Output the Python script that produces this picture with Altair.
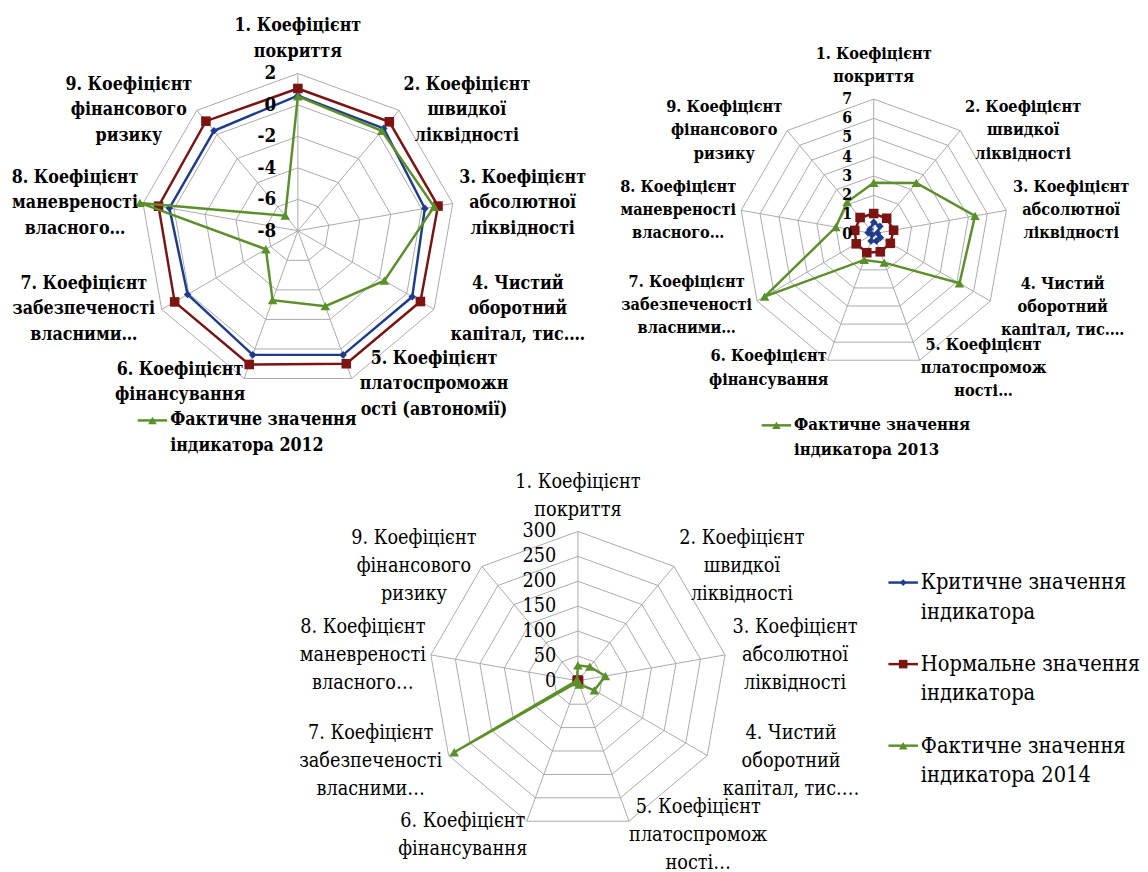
import math
import altair as alt
import pandas as pd

# ------------------------------------------------------------------ data
LABELS_2012 = [
    "1. Коефіцієнт\nпокриття",
    "2. Коефіцієнт\nшвидкої\nліквідності",
    "3. Коефіцієнт\nабсолютної\nліквідності",
    "4. Чистий\nоборотний\nкапітал, тис.…",
    "5. Коефіцієнт\nплатоспроможн\nості (автономії)",
    "6. Коефіцієнт\nфінансування",
    "7. Коефіцієнт\nзабезпеченості\nвласними…",
    "8. Коефіцієнт\nманевреності\nвласного…",
    "9. Коефіцієнт\nфінансового\nризику",
]
LABELS_2013 = [
    "1. Коефіцієнт\nпокриття",
    "2. Коефіцієнт\nшвидкої\nліквідності",
    "3. Коефіцієнт\nабсолютної\nліквідності",
    "4. Чистий\nоборотний\nкапітал, тис.…",
    "5. Коефіцієнт\nплатоспромож\nності…",
    "6. Коефіцієнт\nфінансування",
    "7. Коефіцієнт\nзабезпеченості\nвласними…",
    "8. Коефіцієнт\nманевреності\nвласного…",
    "9. Коефіцієнт\nфінансового\nризику",
]
LABELS_2014 = LABELS_2013

CRITICAL = [0.6, 0.5, 0.2, 0.4, 0.4, 0.4, 0.1, 0.3, 0.3]
NORMAL = [1.05, 1.05, 1.05, 1.0, 1.0, 1.05, 1.05, 1.0, 1.1]
ACTUAL_2012 = [0.55, 0.3, 0.8, -1.65, -2.9, -3.3, -5.65, 2.2, -6.75]
ACTUAL_2013 = [2.65, 3.45, 5.35, 5.15, 1.6, 1.45, 6.55, 2.0, 2.15]
ACTUAL_2014 = [31, 37, 56, 38, 8, 3, 287, 2, 3]

TICKS_2012 = [-8, -6, -4, -2, 0, 2]
TICKS_2013 = [0, 1, 2, 3, 4, 5, 6, 7]
TICKS_2014 = [0, 50, 100, 150, 200, 250, 300]

SERIES = ["Критичне значення індикатора", "Нормальне значення індикатора",
          "Фактичне значення індикатора"]
LEGEND_LINES = ["Критичне значення\nіндикатора", "Нормальне значення\nіндикатора",
                "Фактичне значення\nіндикатора "]
YEARS = ["2012", "2013", "2014"]

# ------------------------------------------------------------------ style
COLORS = ["#1f3c8c", "#7c1414", "#5b8f2a"]
SHAPES = ["diamond", "square", "triangle-up"]
SIZES = [60, 95, 95]
GRID = "#a9a9a9"
FONT = "DejaVu Serif Condensed"
N = 9

CW = {'і': .28, 'ї': .28, '.': .25, ' ': .25, ',': .25, '(': .33, ')': .33, '…': 1.0,
      'ж': .7, 'ш': .77, 'щ': .77, 'ю': .72, 'м': .62, 'ф': .65, 'К': .72, 'Ч': .67,
      'Ф': .72, 'з': .4, 'г': .42, 'е': .44, 'є': .44, 'с': .44, 'а': .44, 'т': .45,
      'ь': .45, 'я': .48, 'к': .48, 'в': .47, 'у': .47}


def text_width(s, size, bold):
    return sum(CW.get(c, 0.5) for c in s) * size * (1.2 if bold else 1.08)


def panel(W, H, cx, cy, R, ticks, actual, labels, fs, lh, tfs, bold, legend, pads, dys):
    vmin, vmax = ticks[0], ticks[-1]
    weight = "bold" if bold else "normal"
    xsc = alt.Scale(domain=[-cx, W - cx], nice=False, zero=False)
    ysc = alt.Scale(domain=[cy - H, cy], nice=False, zero=False)

    def X(f):
        return alt.X(f"{f}:Q", scale=xsc, axis=None)

    def Y(f):
        return alt.Y(f"{f}:Q", scale=ysc, axis=None)

    def polar(ch):
        return (ch.transform_calculate(r=f"(datum.v - ({vmin})) / {vmax - vmin} * {R}")
                  .transform_calculate(a=f"datum.k * 2 * PI / {N}")
                  .transform_calculate(x="datum.r * sin(datum.a)")
                  .transform_calculate(y="datum.r * cos(datum.a)"))

    layers = []
    sp = pd.DataFrame({"k": list(range(N)), "v": [vmax] * N})
    layers.append(polar(alt.Chart(sp)).transform_calculate(x0="0", y0="0").mark_rule(
        color=GRID, strokeWidth=1).encode(x=X("x0"), y=Y("y0"), x2="x:Q", y2="y:Q"))
    rg = pd.DataFrame([{"t": t, "k": k, "v": t} for t in ticks[1:] for k in range(N + 1)])
    layers.append(polar(alt.Chart(rg)).mark_line(color=GRID, strokeWidth=1).encode(
        x=X("x"), y=Y("y"), detail="t:N", order="k:Q"))
    for i, vals in enumerate([CRITICAL, NORMAL, actual]):
        df = pd.DataFrame({"k": list(range(N + 1)), "v": [vals[k % N] for k in range(N + 1)]})
        base = polar(alt.Chart(df))
        layers.append(base.mark_line(color=COLORS[i], strokeWidth=2.5).encode(
            x=X("x"), y=Y("y"), order="k:Q"))
        layers.append(base.transform_filter(f"datum.k < {N}").mark_point(
            filled=True, opacity=1, shape=SHAPES[i], size=SIZES[i], color=COLORS[i]).encode(
            x=X("x"), y=Y("y")))
    tk = pd.DataFrame({"k": [0] * len(ticks), "v": ticks, "txt": [str(t) for t in ticks]})
    layers.append(polar(alt.Chart(tk)).transform_calculate(lx="-22").mark_text(
        align="right", baseline="middle", font=FONT, fontSize=tfs, fontWeight=weight,
        color="black").encode(x=X("lx"), y=Y("y"), text="txt:N"))
    rows = []
    for k, lab in enumerate(labels):
        th = 2 * math.pi * k / N
        vx, vy = R * math.sin(th), R * math.cos(th)
        lines = lab.split("\n")
        hw = max(text_width(l, fs, bold) for l in lines) / 2
        if k == 0:
            lx, ly = 0.0, vy + 22 + (len(lines) - 1) * lh
        else:
            sgn = 1 if math.sin(th) > 0 else -1
            lx, ly = vx + sgn * (pads[k] + hw), vy + dys[k] + (len(lines) - 1) * lh / 2
        rows.append({"lx": lx, "ly": ly, "txt": lab})
    layers.append(alt.Chart(pd.DataFrame(rows)).mark_text(
        align="center", baseline="middle", lineBreak="\n", lineHeight=lh, font=FONT,
        fontSize=fs, fontWeight=weight, color="black").encode(
        x=X("lx"), y=Y("ly"), text="txt:N"))
    idx, x0, y0s, lfs, llh, year = legend
    lg = []
    for j, s in enumerate(idx):
        txt = LEGEND_LINES[s] + (year if s == 2 else "")
        lg.append({"s": s, "x0": x0, "x1": x0 + 30, "xm": x0 + 15, "y": y0s[j],
                   "tx": x0 + 33, "ty": y0s[j], "txt": txt})
    lgd = pd.DataFrame(lg)
    for j, s in enumerate(idx):
        one = alt.Chart(lgd[lgd.s == s])
        layers.append(one.mark_rule(color=COLORS[s], strokeWidth=2.5).encode(
            x=X("x0"), x2="x1:Q", y=Y("y")))
        layers.append(one.mark_point(filled=True, opacity=1, shape=SHAPES[s],
                                     size=SIZES[s] * 0.8, color=COLORS[s]).encode(
            x=X("xm"), y=Y("y")))
    layers.append(alt.Chart(lgd).mark_text(
        align="left", baseline="middle", lineBreak="\n", lineHeight=llh, font=FONT,
        fontSize=lfs, fontWeight=weight, color="black").encode(
        x=X("tx"), y=Y("ty"), text="txt:N"))

    return alt.layer(*layers).properties(width=W, height=H)


p1 = panel(572, 457, 295, 219, 160, TICKS_2012, ACTUAL_2012, LABELS_2012,
           fs=18, lh=26, tfs=19, bold=True,
           legend=([2], -163, [-193], 18, 26, YEARS[0]),
           pads=[0, 7, 9, 18, 12, 3, 12, 7, 7], dys=[0, 0, 0, 0, -6, -4, 0, 0, 0])
p2 = panel(560, 457, 292, 222, 137, TICKS_2013, ACTUAL_2013, LABELS_2013,
           fs=16.5, lh=23.5, tfs=16, bold=True,
           legend=([2], -114, [-195], 17, 25, YEARS[1]),
           pads=[0, 7, 9, 12, 4, 3, 10, 7, 7], dys=[0, 0, 0, -6, -8, -8, -4, 0, 0])
p3 = panel(1132, 399, 580, 220, 152, TICKS_2014, ACTUAL_2014, LABELS_2014,
           fs=20, lh=28.5, tfs=20, bold=False,
           legend=([0, 1, 2], 316, [100, 17, -66], 22, 30, YEARS[2]),
           pads=[0, 7, 9, 18, 4, 3, 12, 7, 7], dys=[0, 0, 0, -6, -14, -14, -6, 0, 0])

chart = alt.vconcat(alt.hconcat(p1, p2, spacing=0), p3, spacing=0).properties(
    padding=0, background="white").configure_view(stroke=None)

chart.save("out.html", embed_options={"renderer": "svg", "actions": False})
